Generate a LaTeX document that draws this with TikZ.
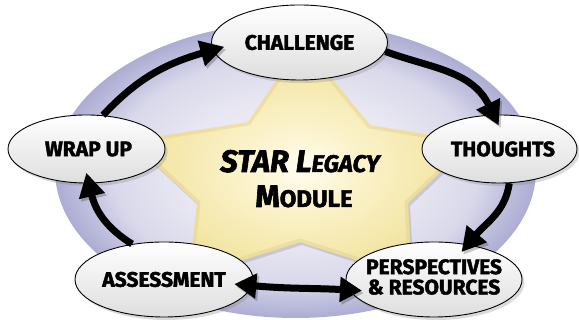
\documentclass[tikz,border=0pt]{standalone}
\usepackage{fontspec}
\setmainfont{Fira Sans}
\newfontfamily\heavy{Fira Sans}[UprightFont=* Bold, ItalicFont=* Bold Italic, FakeBold=2]
\usetikzlibrary{shapes.geometric,arrows.meta,shadows}
\definecolor{pc0}{HTML}{F3F2F8}
\definecolor{pc1}{HTML}{E8E7F2}
\definecolor{pc2}{HTML}{DAD9EB}
\definecolor{pc3}{HTML}{C1C1DF}
\definecolor{pc4}{HTML}{ADADD4}
\definecolor{sc0}{HTML}{FFFDF0}
\definecolor{sc1}{HTML}{FBF2CA}
\definecolor{sc2}{HTML}{F2E5A2}
\definecolor{srim}{HTML}{E3D08A}
\pgfdeclareradialshading{purpshade}{\pgfpoint{0bp}{0bp}}{color(0bp)=(pc0); color(12bp)=(pc1); color(19bp)=(pc2); color(22bp)=(pc3); color(25bp)=(pc4); color(50bp)=(pc4)}
\pgfdeclareradialshading{starshade}{\pgfpoint{0bp}{-2bp}}{color(0bp)=(sc0); color(9bp)=(sc1); color(22bp)=(sc2); color(50bp)=(sc2)}
\begin{document}
\begin{tikzpicture}[x=1pt,y=1pt,
  bub/.style={ellipse, draw=black, line width=0.9pt, inner sep=0pt, top color=white, bottom color=black!13,
    drop shadow={shadow xshift=2.5pt,shadow yshift=-3pt,opacity=.28},
    font=\fontsize{21}{18}\heavy\upshape},
  arrshadow/.style={preaction={draw=black, opacity=.22, transform canvas={shift={(2pt,-2.5pt)}}}},
  arr/.style={line width=7pt, -{Triangle[length=24pt,width=25pt]}, arrshadow},
  darr/.style={line width=7pt, {Triangle[length=22pt,width=24pt]}-{Triangle[length=22pt,width=24pt]}, arrshadow},
  lab/.style={inner sep=0pt, anchor=base}
]
\useasboundingbox (0,0) rectangle (579,320);
\fill[white] (0,0) rectangle (579,320);
% background ellipse
\shade[shading=purpshade] (295.5,150) ellipse [x radius=240.5, y radius=148];
% star
\coordinate (s1) at (302,278);
\coordinate (s2) at (370,195);
\coordinate (s3) at (472,178);
\coordinate (s4) at (408,117);
\coordinate (s5) at (412,42);
\coordinate (s6) at (300,78);
\coordinate (s7) at (189,43);
\coordinate (s8) at (197,117);
\coordinate (s9) at (130,179);
\coordinate (s10) at (248,198);
\fill[black, opacity=.12, transform canvas={shift={(2pt,-3pt)}}] (s1)--(s2)--(s3)--(s4)--(s5)--(s6)--(s7)--(s8)--(s9)--(s10)--cycle;
\shade[shading=starshade] (s1)--(s2)--(s3)--(s4)--(s5)--(s6)--(s7)--(s8)--(s9)--(s10)--cycle;
\begin{scope}
\clip (s1)--(s2)--(s3)--(s4)--(s5)--(s6)--(s7)--(s8)--(s9)--(s10)--cycle;
\draw[srim, line width=7pt, opacity=.45, line join=round] (s1)--(s2)--(s3)--(s4)--(s5)--(s6)--(s7)--(s8)--(s9)--(s10)--cycle;
\end{scope}
\node[lab, font=\fontsize{31}{31}\heavy\itshape] (legacy) at (300,148) {STAR L{\fontsize{24}{24}\selectfont EGACY}};
\node[lab, font=\fontsize{31}{31}\heavy\upshape] (module) at (304,113) {M{\fontsize{24}{24}\selectfont ODULE}};
% ellipses
\node[bub, minimum width=176pt, minimum height=75pt] (chal) at (299.5,277.5) {\makebox[0pt]{CHALLENGE}};
\node[bub, minimum width=155pt, minimum height=68pt] (th) at (499.5,171) {\makebox[0pt]{\hspace*{7pt}THOUGHTS}};
\node[bub, minimum width=157pt, minimum height=68pt] (wr) at (86.5,171) {\makebox[0pt]{\hspace*{4pt}WRAP UP}};
\node[bub, minimum width=178pt, minimum height=75pt] (as) at (164,40.5) {\makebox[0pt]{ASSESSMENT}};
\node[bub, minimum width=176pt, minimum height=75pt] (pr) at (434,40.5) {\makebox[0pt]{\begin{tabular}{@{}c@{}}PERSPECTIVES\\\& RESOURCES\end{tabular}}};
% arrows
\draw[arr, shorten >=-12pt] (wr.64) to[out=47,in=196] (chal.185);
\draw[arr, shorten >=-12pt] (chal.-6) to[out=-20,in=116] (th.100);
\draw[arr, shorten >=-10pt] (th.-74) to[out=262,in=50] (pr.46);
\draw[darr, shorten <=-18pt, shorten >=-13pt] (as.-4) to[out=-5,in=177] (pr.187);
\draw[arr, shorten >=-11pt] (as.132) to[out=148,in=-76.5] (wr.-86);
\end{tikzpicture}
\end{document}
